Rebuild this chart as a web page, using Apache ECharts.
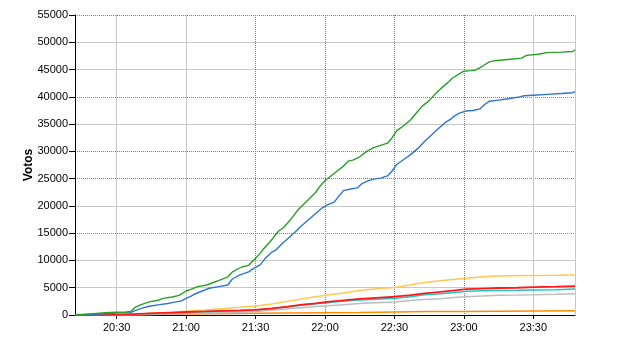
<!DOCTYPE html>
<html><head><meta charset="utf-8">
<script src="https://cdn.jsdelivr.net/npm/echarts@6/dist/echarts.min.js"></script>
<style>html,body{margin:0;padding:0;background:#fff}#c{width:640px;height:350px}</style>
</head><body><div id="c"></div>
<script>
// time values are minutes after 20:00
const xMin = 12, xMax = 228;
const xTickMinutes = [30, 60, 90, 120, 150, 180, 210];
const xSolidGrid = [30, 60, 210, 228];
const xDottedGrid = [90, 120, 150, 180];
const yTicks = [0, 5000, 10000, 15000, 20000, 25000, 30000, 35000, 40000, 45000, 50000, 55000];
const ySolidGrid = [5000, 10000, 20000, 35000, 45000, 50000];
const yDottedGrid = [15000, 25000, 30000, 40000, 55000];
const yAxisName = 'Votos';

const greenData = [[12,0],[15,100],[20,250],[25,400],[30,500],[34,550],[36,650],[38,1400],[40,1800],[44,2400],[48,2700],[50,3050],[54,3300],[57,3600],[60,4400],[62,4700],[65,5200],[69,5500],[72,6000],[74,6300],[78,7000],[80,7900],[84,8800],[87,9100],[90,10400],[92,11300],[93,11900],[96,13300],[100,15400],[102,16000],[105,17400],[108,19100],[110,20000],[113,21200],[116,22500],[118,23700],[120,24600],[122,25300],[125,26300],[128,27300],[130,28200],[132,28400],[135,29000],[138,30000],[141,30700],[144,31100],[147,31500],[149,32500],[151,33800],[154,34700],[157,35800],[160,37300],[162,38300],[165,39300],[168,40700],[170,41500],[173,42600],[175,43400],[178,44200],[180,44700],[183,44800],[185,44900],[188,45600],[191,46400],[193,46600],[200,46900],[205,47100],[207,47600],[212,47800],[216,48100],[222,48200],[227,48300],[228,48600]];
const blueData = [[12,0],[20,150],[30,350],[36,420],[38,800],[41,1250],[44,1600],[48,1850],[52,2100],[55,2350],[58,2600],[60,3050],[62,3400],[64,3900],[67,4400],[70,4900],[74,5200],[78,5500],[80,6600],[83,7300],[87,7900],[89,8500],[92,9200],[94,10300],[97,11500],[99,12000],[102,13300],[105,14400],[108,15600],[110,16400],[113,17500],[116,18600],[119,19700],[121,20200],[124,20700],[126,21800],[128,22800],[131,23100],[134,23300],[136,24100],[138,24500],[141,24900],[144,25100],[147,25500],[149,26400],[151,27600],[154,28500],[157,29400],[160,30500],[163,31800],[166,33000],[169,34200],[172,35300],[174,35800],[176,36500],[178,37000],[181,37400],[184,37500],[187,37800],[189,38600],[191,39200],[195,39400],[200,39700],[204,40000],[206,40200],[210,40300],[216,40450],[222,40600],[227,40750],[228,40950]];
const yellowData = [[12,0],[25,30],[33,80],[40,200],[47,350],[54,500],[60,700],[68,900],[75,1150],[83,1400],[90,1650],[97,2000],[104,2500],[110,2950],[116,3350],[121,3650],[128,4050],[135,4500],[142,4800],[150,5050],[156,5450],[162,5900],[168,6200],[174,6450],[180,6700],[186,6900],[192,7100],[200,7200],[210,7250],[220,7300],[228,7350]];
const redData = [[12,0],[25,20],[33,60],[40,200],[47,330],[54,450],[60,550],[68,650],[75,750],[83,850],[90,950],[97,1200],[104,1550],[110,1900],[116,2150],[121,2400],[128,2700],[135,2950],[142,3150],[150,3350],[157,3650],[163,3950],[170,4250],[177,4550],[181,4750],[188,4850],[195,4950],[203,5000],[210,5100],[220,5200],[228,5300]];
const cyanData = [[12,0],[25,20],[33,50],[40,180],[47,300],[54,420],[60,500],[68,600],[75,700],[83,800],[90,900],[97,1150],[104,1500],[110,1800],[116,2050],[121,2250],[128,2550],[135,2750],[142,2900],[150,3050],[157,3350],[163,3700],[170,3900],[177,4150],[181,4350],[188,4450],[195,4500],[203,4550],[210,4600],[220,4650],[228,4750]];
const grayData = [[12,0],[30,20],[40,60],[47,120],[54,200],[60,280],[68,350],[75,430],[83,520],[90,620],[97,850],[104,1150],[110,1350],[116,1550],[121,1700],[128,1900],[135,2100],[142,2250],[150,2400],[157,2650],[163,2850],[170,3000],[177,3250],[181,3350],[188,3500],[195,3600],[203,3650],[210,3700],[220,3800],[228,3900]];
const orangeData = [[12,0],[30,10],[40,60],[50,120],[60,200],[75,250],[90,300],[105,350],[120,420],[135,480],[150,550],[165,620],[180,650],[195,700],[210,750],[228,800]];

const FONT = "'Liberation Sans', Arial, sans-serif";
const T = 'rgba(0,0,0,0)';
const fmt = v => { const h = 20 + Math.floor(v / 60), m = v % 60; return h + ':' + (m < 10 ? '0' : '') + m; };

const xStep = 6, xLines = [];
for (let v = xMin + xStep; v <= xMax; v += xStep) xLines.push(v);
const yLines = yTicks.slice(1);
const xSolidColors = xLines.map(v => xSolidGrid.includes(v) ? '#c8c8c8' : T);
const xDotColors = xLines.map(v => xDottedGrid.includes(v) ? '#808080' : T);
const ySolidColors = yLines.map(v => ySolidGrid.includes(v) ? '#c8c8c8' : T);
const yDotColors = yLines.map(v => yDottedGrid.includes(v) ? '#808080' : T);

const hiddenX = (colors, type) => ({
  type: 'value', min: xMin, max: xMax, interval: xStep, position: 'bottom',
  axisLine: {show: false}, axisTick: {show: false}, axisLabel: {show: false},
  splitLine: {show: true, showMinLine: false, lineStyle: {color: colors, type: type, width: 1}}
});
const hiddenY = (colors, type) => ({
  type: 'value', min: 0, max: 55000, interval: 5000, position: 'left',
  axisLine: {show: false}, axisTick: {show: false}, axisLabel: {show: false},
  splitLine: {show: true, showMinLine: false, lineStyle: {color: colors, type: type, width: 1}}
});

const line = (data, color, width, z) => ({
  type: 'line', data: data, showSymbol: false, symbol: 'none', animation: false,
  xAxisIndex: 0, yAxisIndex: 0, z: z,
  lineStyle: {color: color, width: width}, itemStyle: {color: color}
});

const chart = echarts.init(document.getElementById('c'), null, {renderer: 'canvas'});
chart.setOption({
  backgroundColor: '#ffffff',
  animation: false,
  grid: {left: 75, right: 65, top: 15, bottom: 35, containLabel: false},
  xAxis: [
    {
      type: 'value', min: xMin, max: xMax, position: 'bottom',
      axisLine: {show: true, lineStyle: {color: '#000', width: 1}},
      axisTick: {show: true, length: 4, customValues: xTickMinutes, lineStyle: {color: '#000'}},
      axisLabel: {show: true, customValues: xTickMinutes, formatter: v => fmt(v), color: '#000', fontFamily: FONT, fontSize: 11, margin: 7},
      splitLine: {show: false}
    },
    hiddenX(xSolidColors, 'solid'),
    hiddenX(xDotColors, 'dotted')
  ],
  yAxis: [
    {
      type: 'value', min: 0, max: 55000, interval: 5000, position: 'left',
      name: yAxisName, nameLocation: 'middle', nameGap: 40, nameRotate: 90, nameMoveOverlap: false,
      nameTextStyle: {color: '#000', fontFamily: FONT, fontSize: 12, fontWeight: 'bold'},
      axisLine: {show: true, lineStyle: {color: '#000', width: 1}},
      axisTick: {show: true, length: 6, lineStyle: {color: '#000'}},
      axisLabel: {show: true, color: '#000', fontFamily: FONT, fontSize: 11, margin: 7, formatter: v => String(v)},
      splitLine: {show: false}
    },
    hiddenY(ySolidColors, 'solid'),
    hiddenY(yDotColors, 'dotted')
  ],
  series: [
    line(orangeData, '#ff8c00', 1.5, 2),
    line(grayData, '#bdbdbd', 1.5, 2),
    line(cyanData, '#22c4c4', 1.5, 2),
    line(yellowData, '#ffc850', 1.5, 2),
    line(redData, '#ff1a1a', 1.8, 2),
    line(blueData, '#2f74cc', 1.4, 3),
    line(greenData, '#26a026', 1.4, 3)
  ]
});
</script></body></html>
